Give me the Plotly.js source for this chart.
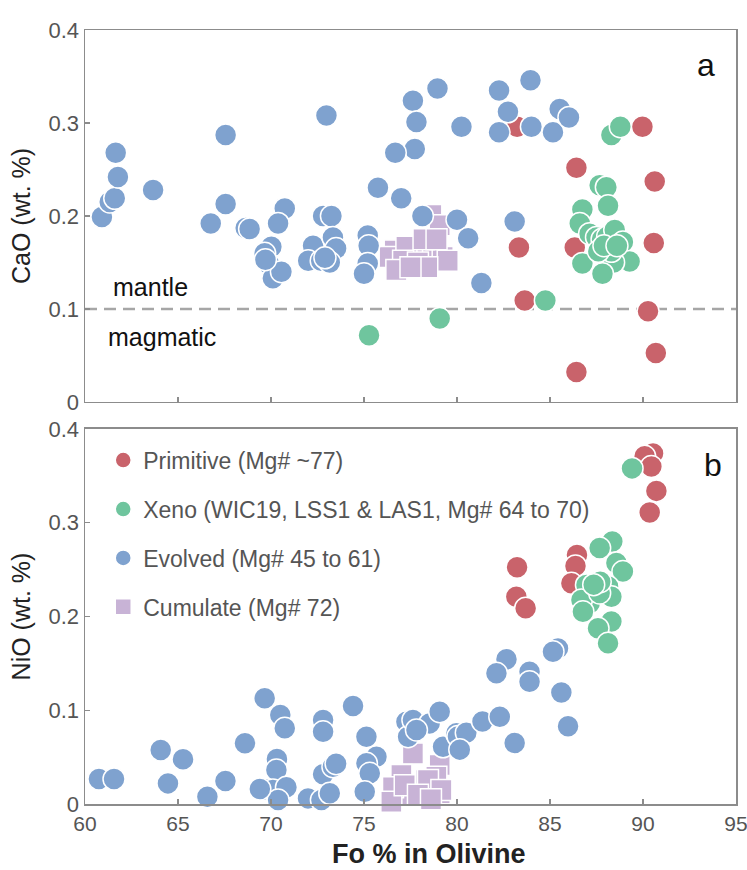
<!DOCTYPE html>
<html>
<head>
<meta charset="utf-8">
<script src="https://cdn.plot.ly/plotly-3.0.1.min.js"></script>
<style>html,body{margin:0;padding:0;background:#fff;}#chart{width:747px;height:870px;}</style>
</head>
<body>
<div id="chart"></div>
<script>
// ---- Data (Fo %, CaO wt.%) top panel ----
const caoEvolvedFo = [60.91,61.33,61.6,61.77,61.65,63.66,67.56,66.76,67.56,68.64,68.85,70.74,70.38,70.02,69.66,69.9,70.1,70.56,69.7,72.98,72.8,73.25,72.26,72.0,73.33,73.5,72.7,73.16,72.9,75.2,75.25,75.2,75.0,77.63,77.82,78.95,77.73,76.68,75.75,77.0,78.14,80.0,80.6,80.24,82.26,83.95,82.74,82.26,84.0,85.16,85.52,86.02,83.1,81.31];
const caoEvolved   = [0.199,0.215,0.219,0.242,0.268,0.228,0.287,0.192,0.213,0.187,0.186,0.208,0.192,0.167,0.160,0.148,0.133,0.140,0.153,0.308,0.200,0.200,0.168,0.152,0.177,0.165,0.152,0.150,0.155,0.179,0.168,0.149,0.138,0.324,0.301,0.337,0.272,0.268,0.2305,0.219,0.200,0.196,0.176,0.296,0.335,0.346,0.312,0.290,0.296,0.290,0.315,0.306,0.194,0.128];
const caoPrimFo = [83.23,89.97,86.42,90.63,83.33,86.33,90.58,83.64,90.27,90.69,86.42];
const caoPrim   = [0.296,0.296,0.252,0.237,0.166,0.166,0.171,0.109,0.0975,0.0527,0.0323];
const caoXenoFo = [84.75,79.07,75.27,88.30,88.78,87.67,88.03,88.12,86.74,86.6,87.13,87.5,87.8,88.1,88.48,88.92,89.28,88.42,86.74,87.82,88.3,87.6,87.9,88.6];
const caoXeno   = [0.109,0.0897,0.0717,0.287,0.296,0.233,0.231,0.211,0.207,0.192,0.181,0.177,0.175,0.178,0.185,0.172,0.151,0.150,0.149,0.138,0.162,0.162,0.168,0.168];
const caoCumFo = [78.62,79.07,77.73,78.71,79.23,79.5,76.65,76.38,77.28,77.1,76.74,78.2,77.9,78.4,77.5,78.9];
const caoCum   = [0.201,0.190,0.167,0.160,0.156,0.152,0.163,0.156,0.167,0.152,0.142,0.175,0.150,0.145,0.145,0.175];

// ---- Data (Fo %, NiO wt.%) bottom panel ----
const nioEvolvedFo = [60.75,61.56,64.07,64.46,65.27,66.58,67.55,68.6,69.66,70.5,70.74,70.32,70.29,69.66,70.1,70.83,70.38,69.4,71.99,72.71,72.8,72.8,72.8,73.33,73.5,73.16,74.41,75.13,75.67,75.13,75.31,75.04,77.28,77.37,77.63,78.53,79.07,77.82,79.25,79.97,80.05,80.5,81.37,82.3,83.1,80.15,82.66,82.12,83.9,83.9,85.43,85.16,85.61,85.97];
const nioEvolved   = [0.0267,0.0267,0.0576,0.022,0.0477,0.0078,0.0245,0.0648,0.1128,0.095,0.0808,0.048,0.0363,0.0157,0.015,0.0178,0.0043,0.016,0.006,0.0043,0.0896,0.077,0.0317,0.0398,0.043,0.0114,0.1046,0.0718,0.0505,0.0434,0.0327,0.0131,0.0878,0.0718,0.0896,0.086,0.0985,0.079,0.061,0.0755,0.072,0.076,0.088,0.093,0.065,0.058,0.1544,0.1395,0.141,0.1305,0.166,0.1625,0.119,0.083];
const nioPrimFo = [83.23,83.19,83.69,86.45,86.37,86.15,90.54,90.09,90.45,90.72,90.36];
const nioPrim   = [0.2526,0.221,0.2088,0.2657,0.254,0.2355,0.374,0.371,0.360,0.334,0.311];
const nioXenoFo = [89.41,88.35,87.67,88.57,88.92,86.96,88.12,88.3,87.13,86.69,86.77,88.3,87.58,88.12,87.67,87.7,87.35];
const nioXeno   = [0.358,0.280,0.273,0.257,0.248,0.2337,0.232,0.221,0.214,0.2177,0.205,0.1946,0.1875,0.1715,0.225,0.237,0.234];
const nioCumFo = [77.63,79.07,77.01,78.35,77.28,78.89,76.56,79.07,76.47,77.19,78.44,79.16,77.9,78.6];
const nioCum   = [0.054,0.0416,0.031,0.0256,0.0096,0.029,0.018,0.0114,0.0025,0.020,0.0256,0.015,0.010,0.005];

const seriesNames = ['Primitive (Mg# ~77)','Xeno (WIC19, LSS1 &amp; LAS1, Mg# 64 to 70)','Evolved (Mg# 45 to 61)','Cumulate (Mg# 72)'];
const xTickVals = [60,65,70,75,80,85,90,95];
const yTickVals = [0,0.1,0.2,0.3,0.4];
const caoThreshold = 0.1;

const colors = {prim:'#c9636b', xeno:'#6fc59e', evol:'#7fa2cf', cum:'#c8b3d6'};
const FONT = 'Arial, "Liberation Sans", Helvetica, sans-serif';

function circ(color){ return {color:color, size:22, symbol:'circle', line:{color:'#ffffff', width:1.5}}; }
function sq(color){ return {color:color, size:21, symbol:'square', line:{color:'#ffffff', width:1.5}}; }

const traces = [
  // top panel
  {x:caoCumFo, y:caoCum, xaxis:'x2', yaxis:'y2', mode:'markers', type:'scatter', marker:sq(colors.cum), showlegend:false, cliponaxis:false},
  {x:caoPrimFo, y:caoPrim, xaxis:'x2', yaxis:'y2', mode:'markers', type:'scatter', marker:circ(colors.prim), showlegend:false, cliponaxis:false},
  {x:caoXenoFo, y:caoXeno, xaxis:'x2', yaxis:'y2', mode:'markers', type:'scatter', marker:circ(colors.xeno), showlegend:false, cliponaxis:false},
  {x:caoEvolvedFo, y:caoEvolved, xaxis:'x2', yaxis:'y2', mode:'markers', type:'scatter', marker:circ(colors.evol), showlegend:false, cliponaxis:false},
  // bottom panel
  {x:nioCumFo, y:nioCum, xaxis:'x', yaxis:'y', mode:'markers', type:'scatter', marker:sq(colors.cum), name:seriesNames[3], legendgroup:'d', legendrank:4, cliponaxis:false},
  {x:nioPrimFo, y:nioPrim, xaxis:'x', yaxis:'y', mode:'markers', type:'scatter', marker:circ(colors.prim), name:seriesNames[0], legendgroup:'a', legendrank:1, cliponaxis:false},
  {x:nioXenoFo, y:nioXeno, xaxis:'x', yaxis:'y', mode:'markers', type:'scatter', marker:circ(colors.xeno), name:seriesNames[1], legendgroup:'b', legendrank:2, cliponaxis:false},
  {x:nioEvolvedFo, y:nioEvolved, xaxis:'x', yaxis:'y', mode:'markers', type:'scatter', marker:circ(colors.evol), name:seriesNames[2], legendgroup:'c', legendrank:3, cliponaxis:false}
];

const axisCommon = {
  showline:true, mirror:true, linecolor:'#8c8c8c', linewidth:1.5,
  ticks:'inside', ticklen:5, tickwidth:1.2, tickcolor:'#8c8c8c',
  showgrid:false, zeroline:false, ticklabeloverflow:'allow',
  tickfont:{family:FONT, size:22, color:'#555555'}
};

const layout = {
  width:747, height:870,
  margin:{l:85, r:11, t:30, b:66},
  paper_bgcolor:'#ffffff', plot_bgcolor:'#ffffff',
  font:{family:FONT},
  showlegend:true,
  legend:{x:0.028, y:0.472, xanchor:'left', yanchor:'top', bgcolor:'rgba(0,0,0,0)',
          font:{family:FONT, size:23, color:'#555555'}, tracegroupgap:16, itemsizing:'trace', traceorder:'grouped'},
  xaxis: Object.assign({}, axisCommon, {domain:[0,1], anchor:'y', range:[60,95], tickvals:xTickVals, ticklabelstandoff:0,
          tickfont:{family:FONT, size:21, color:'#555555'}}),
  xaxis2: Object.assign({}, axisCommon, {domain:[0,1], anchor:'y2', matches:'x', range:[60,95], tickvals:xTickVals, showticklabels:false}),
  yaxis: Object.assign({}, axisCommon, {domain:[0,0.4845], anchor:'x', range:[0,0.4], tickvals:yTickVals,
          title:{text:'NiO (wt. %)', font:{family:FONT, size:25, color:'#222222'}, standoff:10}}),
  yaxis2: Object.assign({}, axisCommon, {domain:[0.5194,1], anchor:'x2', range:[0,0.4], tickvals:yTickVals,
          title:{text:'CaO (wt. %)', font:{family:FONT, size:25, color:'#222222'}, standoff:10}}),
  shapes:[
    {type:'line', xref:'x2 domain', yref:'y2', x0:0, x1:1, y0:caoThreshold, y1:caoThreshold,
     line:{color:'#a6a6a6', width:2.5, dash:'12px,7px'}, layer:'below'}
  ],
  annotations:[
    {text:'<b>Fo % in Olivine</b>', xref:'paper', yref:'paper', x:0.528, y:-0.0645, xanchor:'center', yanchor:'middle', showarrow:false, borderpad:0, font:{family:FONT, size:27, color:'#222222'}},
    {text:'a', xref:'paper', yref:'paper', x:0.954, y:0.955, xanchor:'center', yanchor:'middle', showarrow:false, font:{family:FONT, size:32, color:'#111111'}},
    {text:'b', xref:'paper', yref:'paper', x:0.965, y:0.438, xanchor:'center', yanchor:'middle', showarrow:false, font:{family:FONT, size:32, color:'#111111'}},
    {text:'mantle', xref:'paper', yref:'paper', x:0.1, y:0.668, xanchor:'center', yanchor:'middle', showarrow:false, font:{family:FONT, size:25, color:'#111111'}},
    {text:'magmatic', xref:'paper', yref:'paper', x:0.118, y:0.6037, xanchor:'center', yanchor:'middle', showarrow:false, font:{family:FONT, size:25, color:'#111111'}}
  ]
};

Plotly.newPlot('chart', traces, layout, {displayModeBar:false, staticPlot:true});
</script>
</body>
</html>
